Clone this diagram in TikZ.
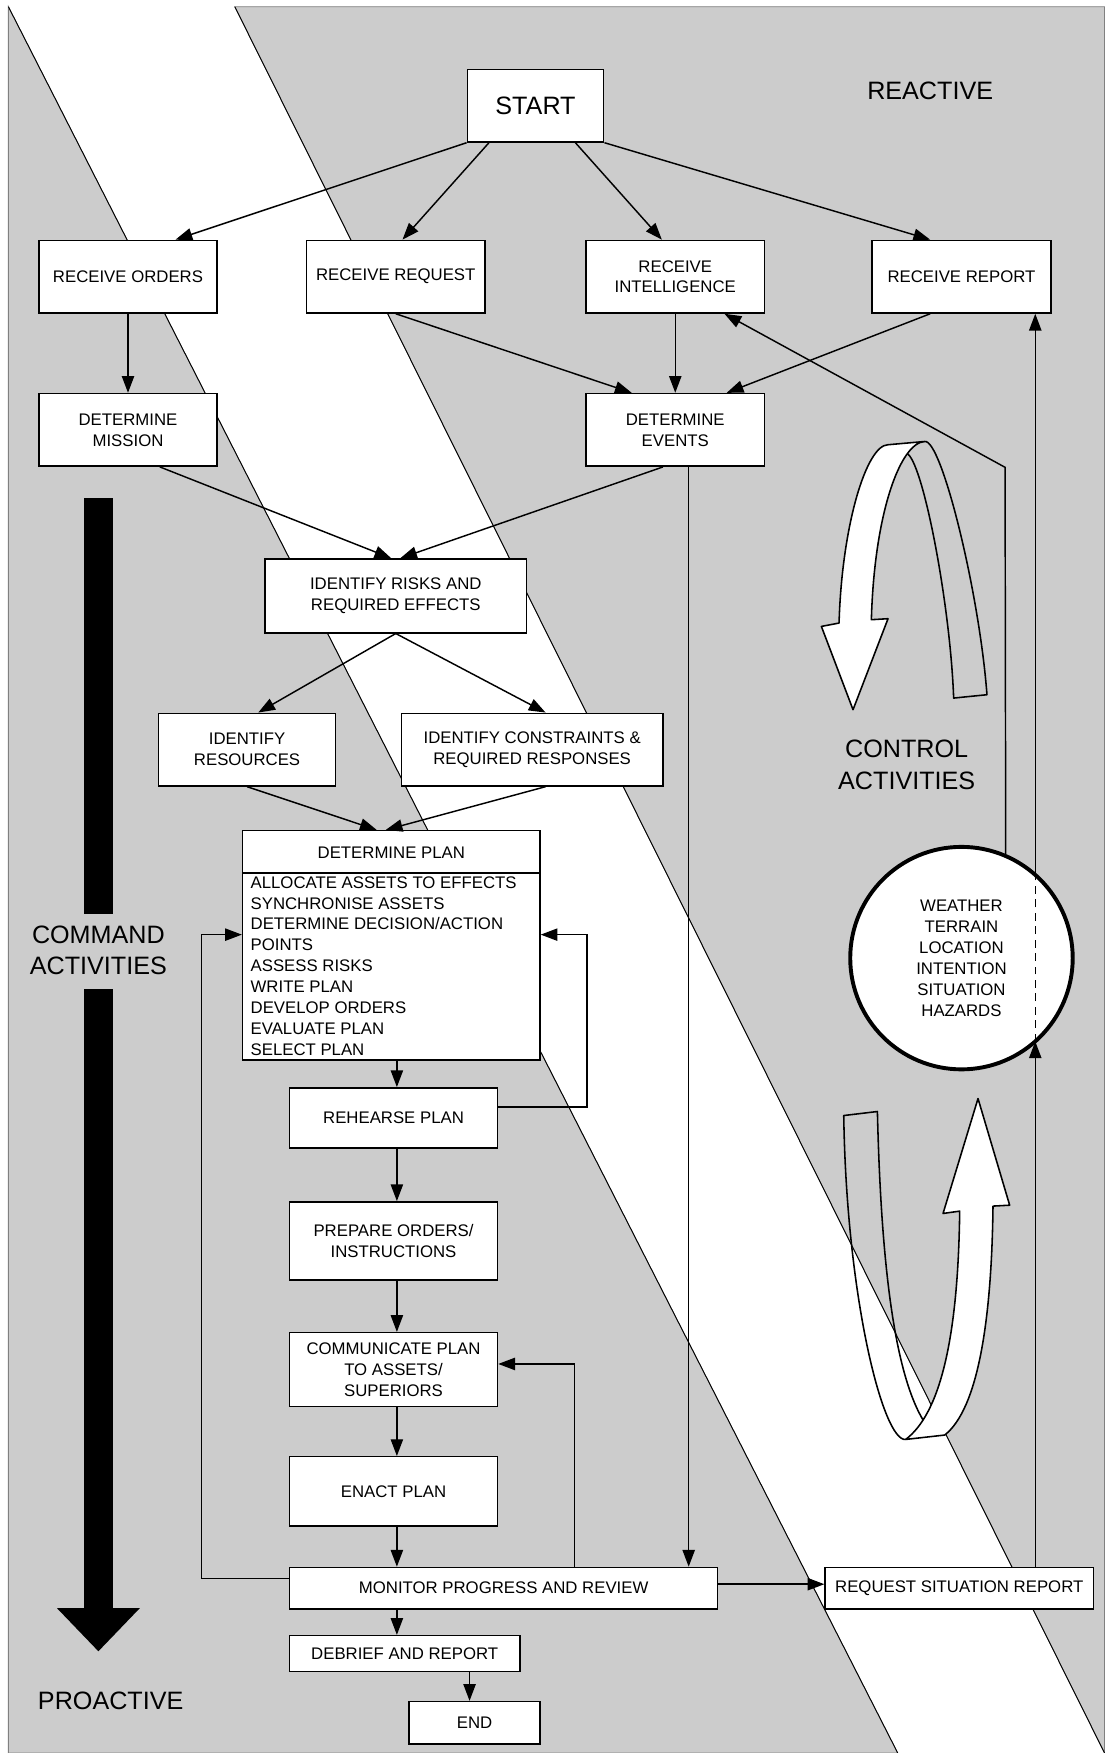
\documentclass[tikz,border=0pt]{standalone}
\usepackage{fontspec}
\setmainfont{Liberation Sans}
\usetikzlibrary{arrows.meta,calc}
\definecolor{bandgray}{HTML}{CCCCCC}
\newcommand\boxfont{\fontsize{15}{18.7}\selectfont}
\newcommand\bigfont{\fontsize{22.5}{28}\selectfont}
\begin{document}
\begin{tikzpicture}[x=1pt,y=-1pt,
  box/.style={draw, fill=white, line width=1.3pt, align=center, inner sep=0pt, font=\boxfont},
  arr/.style={line width=1.3pt, -{Triangle[length=15pt,width=11pt]}},
  plain/.style={line width=1.3pt},
  ribbon/.style={line width=1.4pt, line join=round},
  bigtext/.style={align=center, inner sep=0pt, font=\bigfont}]
\useasboundingbox (0,0) rectangle (988,1568);
% background
\fill[white] (0,0) rectangle (988,1568);
\filldraw[fill=bandgray, draw=black!50, line width=0.8pt] (7.5,6) -- (7.5,1568) -- (803,1568) -- cycle;
\filldraw[fill=bandgray, draw=black!50, line width=0.8pt] (210,6) -- (988,6) -- (988,1568) -- cycle;
\draw[line width=0.8pt] (7.5,6) -- (803,1568);
\draw[line width=0.8pt] (210,6) -- (988,1568);

% command bar
\fill (75,445) rectangle (101,817.6);
\fill (75,884.3) rectangle (101,1440);
\fill (51,1438.5) -- (125,1438.5) -- (88,1477) -- cycle;
\node[bigtext] (cmd) at (88,850) {COMMAND\\ACTIVITIES};
\node[bigtext] (pro) at (99,1521) {PROACTIVE};
\node[bigtext] (rea) at (832,81) {REACTIVE};
\node[bigtext] (ctl) at (811,684) {CONTROL\\ACTIVITIES};

% top curved arrow
\draw[ribbon] (810.7,405.3) .. controls (825,410) and (850,540) .. (853,624.4) -- (882.8,621.4) .. controls (876,530) and (842,392) .. (827.1,394.9);
\filldraw[ribbon, fill=white] (750.5,557.3) .. controls (753,470) and (775,398) .. (794.3,397.8) -- (827.1,394.9) .. controls (805,396) and (782,460) .. (779.4,554.3) -- (794.3,553.4) -- (763,634.8) -- (734.7,560.3) -- cycle;

% bottom curved arrow
\draw[ribbon] (827.1,1272.5) .. controls (800,1230) and (788,1130) .. (784.8,994.2) -- (754.7,997.8) .. controls (757,1160) and (790,1290) .. (810.1,1287.5);
\filldraw[ribbon, fill=white] (810.1,1287.5) -- (845,1283.6) .. controls (875,1260) and (887,1180) .. (888.2,1078.8) -- (903.1,1078) -- (874.8,982.6) -- (843.5,1085.4) -- (858.4,1083.3) .. controls (857,1200) and (840,1265) .. cycle;

% boxes
\node[box, minimum width=122pt, minimum height=65pt, font=\bigfont] (start) at (479,94.5) {START};
\node[box, minimum width=159pt, minimum height=65pt] (rorders) at (114.5,247.5) {RECEIVE ORDERS};
\node[box, minimum width=160pt, minimum height=65pt] (rrequest) at (354,247.5) {RECEIVE REQUEST};
\node[box, minimum width=160pt, minimum height=65pt] (rintel) at (604,247.5) {RECEIVE\\INTELLIGENCE};
\node[box, minimum width=160pt, minimum height=65pt] (rreport) at (860,247.5) {RECEIVE REPORT};
\node[box, minimum width=159pt, minimum height=65pt] (dmission) at (114.5,384.5) {DETERMINE\\MISSION};
\node[box, minimum width=160pt, minimum height=65pt] (devents) at (604,384.5) {DETERMINE\\EVENTS};
\node[box, minimum width=234pt, minimum height=66pt] (risks) at (354,533) {IDENTIFY RISKS AND\\REQUIRED EFFECTS};
\node[box, minimum width=158pt, minimum height=65pt] (resources) at (221,670.5) {IDENTIFY\\RESOURCES};
\node[box, minimum width=234pt, minimum height=65pt] (constraints) at (476,670.5) {IDENTIFY CONSTRAINTS \&\\REQUIRED RESPONSES};
\node[box, minimum width=266pt, minimum height=205pt] (plan) at (350,845.5) {};
\draw[plain] (plan.west |- 0,781) -- (plan.east |- 0,781);
\node[align=center, inner sep=0pt, font=\boxfont] (planhead) at (350,762.5) {DETERMINE PLAN};
\node[align=left, inner sep=0pt, anchor=north west, font=\boxfont] (planlist) at (224,783.7) {ALLOCATE ASSETS TO EFFECTS\\SYNCHRONISE ASSETS\\DETERMINE DECISION/ACTION\\POINTS\\ASSESS RISKS\\WRITE PLAN\\DEVELOP ORDERS\\EVALUATE PLAN\\SELECT PLAN};
\node[box, minimum width=186pt, minimum height=54pt] (rehearse) at (352,1000) {REHEARSE PLAN};
\node[box, minimum width=186pt, minimum height=70pt] (prepare) at (352,1110) {PREPARE ORDERS/\\INSTRUCTIONS};
\node[box, minimum width=186pt, minimum height=66pt] (communicate) at (352,1225) {COMMUNICATE PLAN\\TO ASSETS/\\SUPERIORS};
\node[box, minimum width=186pt, minimum height=62pt] (enact) at (352,1334) {ENACT PLAN};
\node[box, minimum width=383pt, minimum height=37pt] (monitor) at (450.5,1420.5) {MONITOR PROGRESS AND REVIEW};
\node[box, minimum width=240pt, minimum height=37pt] (request) at (858,1420.5) {REQUEST SITUATION REPORT};
\node[box, minimum width=206pt, minimum height=32pt] (debrief) at (362,1479) {DEBRIEF AND REPORT};
\node[box, minimum width=117pt, minimum height=38pt] (end) at (424.5,1541) {END};
\node[box, circle, line width=3.5pt, minimum size=199pt] (world) at (860,857) {WEATHER\\TERRAIN\\LOCATION\\INTENTION\\SITUATION\\HAZARDS};

% connectors
\draw[arr] (start.south west) -- (157,0 |- rorders.north);
\draw[arr] ([xshift=20pt]start.south west) -- ([xshift=6pt]rrequest.north);
\draw[arr] ([xshift=-26pt]start.south east) -- ([xshift=-12pt]rintel.north);
\draw[arr] (start.south east) -- ([xshift=-28pt]rreport.north);
\draw[arr] (rorders.south) -- (dmission.north);
\draw[arr] (rrequest.south) -- ([xshift=-39pt]devents.north);
\draw[arr] (rintel.south) -- (devents.north);
\draw[arr] ([xshift=-28pt]rreport.south) -- ([xshift=46pt]devents.north);
\draw[arr] ([xshift=28.5pt]dmission.south) -- ([xshift=-4pt]risks.north);
\draw[arr] ([xshift=-11pt]devents.south) -- ([xshift=4pt]risks.north);
\draw[arr] ([xshift=12pt]devents.south) -- (616,0 |- monitor.north);
\draw[arr] (risks.south) -- ([xshift=10pt]resources.north);
\draw[arr] (risks.south) -- ([xshift=12pt]constraints.north);
\draw[arr] (resources.south) -- ([xshift=-13pt]plan.north);
\draw[arr] ([xshift=12pt]constraints.south) -- ([xshift=-5pt]plan.north);
\draw[arr] (355,0 |- plan.south) -- (355,0 |- rehearse.north);
\coordinate (loopR) at (525,836);
\draw[arr] ([yshift=10pt]rehearse.east) -| (loopR) -- ([yshift=9.5pt]plan.east);
\draw[arr] (355,0 |- rehearse.south) -- (355,0 |- prepare.north);
\draw[arr] (355,0 |- prepare.south) -- (355,0 |- communicate.north);
\draw[arr] (355,0 |- communicate.south) -- (355,0 |- enact.north);
\draw[arr] (355,0 |- enact.south) -- (355,0 |- monitor.north);
\draw[arr] (514,0 |- monitor.north) |- ([yshift=5pt]communicate.east);
\coordinate (loopL) at (180,836);
\draw[arr] ([yshift=8.5pt]monitor.west) -| (loopL) -- ([yshift=9.5pt]plan.west);
\draw[arr] (355,0 |- monitor.south) -- (355,0 |- debrief.north);
\draw[arr] (420,0 |- debrief.south) -- (420,0 |- end.north);
\draw[arr] ([yshift=3.5pt]monitor.east) -- ([yshift=3.5pt]request.west);
\coordinate (cb) at (926,931.5);
\coordinate (ct) at (926,782.5);
\draw[arr] (926,0 |- request.north) -- (cb);
\draw[line width=1.1pt, dash pattern=on 7pt off 5pt] (cb) -- (ct);
\draw[arr] (ct) -- (926,0 |- rreport.south);
\coordinate (bend) at (899,418);
\draw[arr] (world.67) -- (bend) -- ([xshift=44pt]rintel.south);
\end{tikzpicture}
\end{document}
